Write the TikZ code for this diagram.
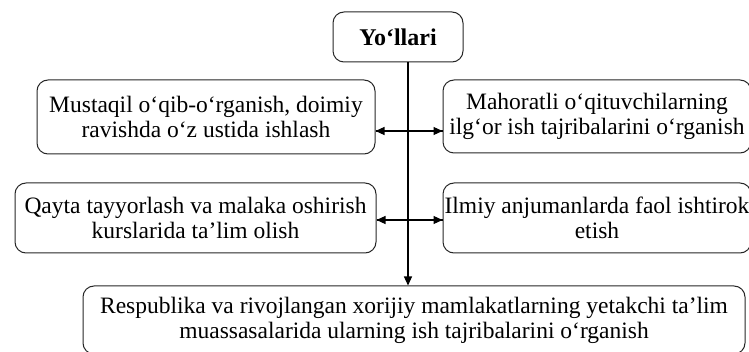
\documentclass[tikz,border=0pt]{standalone}
\usepackage{fontspec}
\setmainfont{Liberation Serif}
\usetikzlibrary{arrows.meta}
\begin{document}
\begin{tikzpicture}[x=1pt,y=-1pt,
  box/.style={draw=black!85, line width=1pt, rounded corners=11pt, align=center,
    inner sep=0pt, font=\fontsize{23.5}{25}\selectfont},
  conn/.style={line width=1.1pt, black},
  tip/.style={-{Triangle[length=9pt,width=8pt]}}]
\useasboundingbox (0,0) rectangle (749,352);
\clip (0,0) rectangle (749,352);
\node[box, minimum width=130pt, minimum height=50pt, font=\fontsize{24}{25}\selectfont\bfseries] (top) at (398,37) {Yo‘llari};
\node[box, minimum width=338pt, minimum height=74pt] (b1) at (206,117) {Mustaqil o‘qib-o‘rganish, doimiy\\ravishda o‘z ustida ishlash};
\node[box, minimum width=308pt, minimum height=73pt] (b2) at (597,116.5) {Mahoratli o‘qituvchilarning\\ilg‘or ish tajribalarini o‘rganish};
\node[box, minimum width=361pt, minimum height=70pt] (b3) at (195.5,218) {Qayta tayyorlash va malaka oshirish\\kurslarida ta’lim olish};
\node[box, minimum width=308pt, minimum height=70pt] (b4) at (597,218) {Ilmiy anjumanlarda faol ishtirok\\etish};
\node[box, minimum width=662pt, minimum height=68pt] (bot) at (414,320) {Respublika va rivojlangan xorijiy mamlakatlarning yetakchi ta’lim\\muassasalarida ularning ish tajribalarini o‘rganish};
\coordinate (spine) at (408,0);
\coordinate (r1) at (0,131);
\coordinate (r2) at (0,220);
\draw[conn, tip] (top.south -| spine) -- (bot.north -| spine);
\draw[conn, tip] (b1.east |- r1) -- (b2.west |- r1);
\draw[conn, tip] (b2.west |- r1) -- (b1.east |- r1);
\draw[conn, tip] (b3.east |- r2) -- (b4.west |- r2);
\draw[conn, tip] (b4.west |- r2) -- (b3.east |- r2);
\end{tikzpicture}
\end{document}
